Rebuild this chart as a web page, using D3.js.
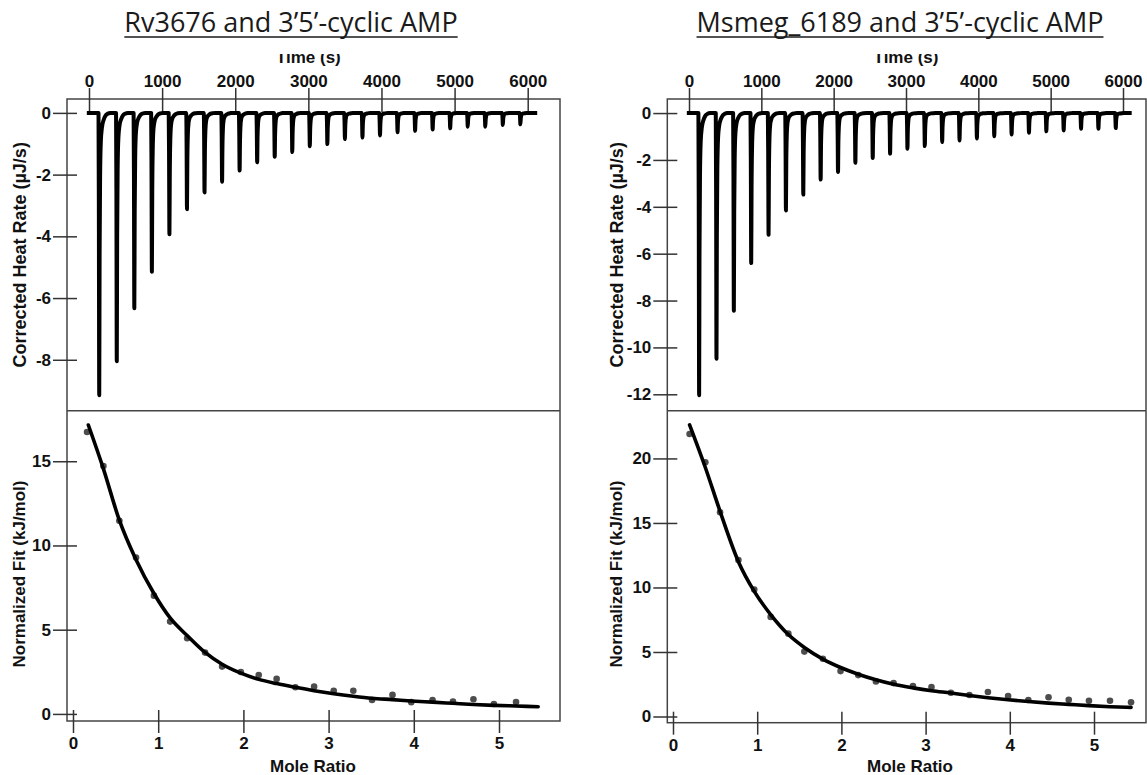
<!DOCTYPE html>
<html>
<head>
<meta charset="utf-8">
<script src="https://cdn.jsdelivr.net/npm/d3@7"></script>
<style>
  html, body { margin: 0; padding: 0; background: #fff; }
  svg { display: block; }
  .tick text { font-family: "Liberation Sans", Arial, sans-serif; font-weight: bold; font-size: 17px; fill: #111; }
  .tick line { stroke: #333; stroke-width: 1.5; }
  .axis-title { font-family: "Liberation Sans", Arial, sans-serif; font-weight: bold; font-size: 17px; fill: #111; }
  .axis-title.rate { font-size: 18px; }
  .chart-title { font-family: "Open Sans", sans-serif; font-size: 27px; fill: #1a1a1a; }
</style>
</head>
<body>
<svg id="chart" width="1147" height="775"></svg>
<script>
// ---- Injection schedule (s): 25 injections, one every 240 s ----
const injectionStarts = [130, 370, 610, 850, 1090, 1330, 1570, 1810, 2050, 2290, 2530, 2770, 3010,
  3250, 3490, 3730, 3970, 4210, 4450, 4690, 4930, 5170, 5410, 5650, 5890];

// Peak minimum of each injection (µJ/s)
const rvPeakMin = [-9.15, -8.05, -6.33, -5.15, -3.93, -3.12, -2.58, -2.23, -1.87, -1.6, -1.42, -1.27, -1.08,
  -1.01, -0.85, -0.8, -0.73, -0.63, -0.58, -0.54, -0.5, -0.45, -0.45, -0.39, -0.37];
const msPeakMin = [-12.04, -10.48, -8.44, -6.4, -5.19, -4.16, -3.48, -2.84, -2.52, -2.12, -1.92, -1.73, -1.52,
  -1.41, -1.24, -1.17, -1.09, -0.99, -0.92, -0.84, -0.78, -0.74, -0.67, -0.67, -0.64];

// Shape of one injection peak: [seconds after injection, fraction of the peak minimum]
const peakProfile = [[0, 0], [5, 0.35], [10, 1], [15, 0.5], [22, 0.22], [32, 0.1], [48, 0.05],
  [70, 0.025], [95, 0.01], [125, 0.003], [160, 0]];

// Recording window (s)
const rvTraceSpan = [-30, 6130];
const msTraceSpan = [-30, 6120];

// ---- Integrated heats (kJ/mol) vs molar ratio ----
const rvRatio = [0.165, 0.357, 0.544, 0.74, 0.95, 1.14, 1.34, 1.55, 1.75, 1.97, 2.18, 2.39, 2.61, 2.83,
  3.06, 3.29, 3.51, 3.75, 3.97, 4.22, 4.46, 4.70, 4.94, 5.20];
const rvHeat = [16.74, 14.71, 11.47, 9.29, 7.02, 5.48, 4.49, 3.64, 2.81, 2.49, 2.31, 2.08, 1.58, 1.62,
  1.38, 1.38, 0.83, 1.13, 0.7, 0.83, 0.73, 0.87, 0.59, 0.71];
const rvFitRatio = [0.18, 0.357, 0.544, 0.74, 0.95, 1.14, 1.34, 1.55, 1.75, 1.97, 2.18, 2.39, 2.61, 2.83,
  3.06, 3.29, 3.51, 3.75, 3.97, 4.22, 4.46, 4.70, 4.94, 5.20, 5.46];
const rvFit = [17.15, 14.55, 11.5, 9.15, 7.15, 5.7, 4.65, 3.65, 2.95, 2.42, 2.05, 1.8, 1.58, 1.38,
  1.2, 1.05, 0.93, 0.85, 0.77, 0.70, 0.63, 0.56, 0.51, 0.47, 0.43];

const msRatio = [0.197, 0.384, 0.559, 0.777, 0.965, 1.16, 1.37, 1.56, 1.78, 1.99, 2.20, 2.41, 2.62, 2.85,
  3.07, 3.30, 3.52, 3.74, 3.98, 4.22, 4.46, 4.70, 4.94, 5.19, 5.44];
const msHeat = [21.9, 19.7, 15.83, 12.12, 9.84, 7.72, 6.42, 5.03, 4.48, 3.52, 3.21, 2.72, 2.59, 2.36,
  2.28, 1.84, 1.67, 1.90, 1.59, 1.28, 1.49, 1.30, 1.22, 1.22, 1.10];
const msFitRatio = msRatio;
const msFit = [22.6, 19.3, 15.9, 12.0, 9.7, 7.9, 6.35, 5.35, 4.45, 3.8, 3.28, 2.85, 2.5, 2.22,
  2.0, 1.82, 1.63, 1.46, 1.3, 1.16, 1.04, 0.94, 0.84, 0.76, 0.71];

// ---- Tick labels ----
const timeTicks = [0, 1000, 2000, 3000, 4000, 5000, 6000];
const ratioTicks = [0, 1, 2, 3, 4, 5];
const rvRateTicks = [0, -2, -4, -6, -8];
const msRateTicks = [0, -2, -4, -6, -8, -10, -12];
const rvFitTicks = [0, 5, 10, 15];
const msFitTicks = [0, 5, 10, 15, 20];

const titles = ["Rv3676 and 3\u20195\u2019-cyclic AMP", "Msmeg_6189 and 3\u20195\u2019-cyclic AMP"];

// ---- Panel layout ----
const panels = [
  {
    title: titles[0], titleX: 291,
    x0: 67, x1: 560, top: 99, mid: 410.7, bottom: 721,
    timeRange: [89, 527.7], ratioRange: [73, 499],
    rateDomain: [0.45, -9.65], fitDomain: [18.0, -0.42],
    yTitleX: 20, peaks: rvPeakMin, span: rvTraceSpan, rateTicks: rvRateTicks, fitTicks: rvFitTicks,
    ratio: rvRatio, heat: rvHeat, fitRatio: rvFitRatio, fit: rvFit, moleX: 313
  },
  {
    title: titles[1], titleX: 900,
    x0: 667.3, x1: 1146, top: 99, mid: 410.7, bottom: 722.7,
    timeRange: [689, 1123], ratioRange: [673, 1094],
    rateDomain: [0.6, -12.7], fitDomain: [23.7, -0.48],
    yTitleX: 617, peaks: msPeakMin, span: msTraceSpan, rateTicks: msRateTicks, fitTicks: msFitTicks,
    ratio: msRatio, heat: msHeat, fitRatio: msFitRatio, fit: msFit, moleX: 910
  }
];

const svg = d3.select("#chart");

function buildTrace(starts, minima, span) {
  const pts = [[span[0], 0]];
  starts.forEach((t0, i) => {
    peakProfile.forEach(([dt, f]) => pts.push([t0 + dt, f * minima[i]]));
  });
  pts.push([span[1], 0]);
  return pts;
}

panels.forEach(p => {
  const g = svg.append("g");

  const x = d3.scaleLinear().domain([0, 6000]).range(p.timeRange);
  const yRate = d3.scaleLinear().domain(p.rateDomain).range([p.top, p.mid]);
  const xr = d3.scaleLinear().domain([0, 5]).range(p.ratioRange);
  const yFit = d3.scaleLinear().domain(p.fitDomain).range([p.mid, p.bottom]);

  // "Time (s)" label, top edge hidden under the title band
  g.append("text").attr("class", "axis-title")
    .attr("x", (p.timeRange[0] + p.timeRange[1]) / 2).attr("y", 63)
    .attr("text-anchor", "middle").text("Time (s)");
  g.append("rect").attr("x", p.x0 - 60).attr("y", 0)
    .attr("width", p.x1 - p.x0 + 80).attr("height", 54).attr("fill", "#fff");

  // Title with underline
  const t = g.append("text").attr("class", "chart-title")
    .attr("x", p.titleX).attr("y", 32).attr("text-anchor", "middle").text(p.title);
  const tw = t.node().getComputedTextLength();
  g.append("line").attr("x1", p.titleX - tw / 2).attr("x2", p.titleX + tw / 2)
    .attr("y1", 37).attr("y2", 37).attr("stroke", "#1a1a1a").attr("stroke-width", 1.5);

  // Frames
  g.append("rect").attr("x", p.x0).attr("y", p.top)
    .attr("width", p.x1 - p.x0).attr("height", p.bottom - p.top)
    .attr("fill", "none").attr("stroke", "#444").attr("stroke-width", 1.5);
  g.append("line").attr("x1", p.x0).attr("x2", p.x1).attr("y1", p.mid).attr("y2", p.mid)
    .attr("stroke", "#444").attr("stroke-width", 1.5);

  // Axes
  const fmt = d => String(d);
  g.append("g").attr("transform", `translate(0,${p.top + 13})`)
    .call(d3.axisTop(x).tickValues(timeTicks).tickFormat(fmt).tickSize(24).tickPadding(1))
    .call(a => a.select(".domain").remove());
  g.append("g").attr("transform", `translate(${p.x0 + 10},0)`)
    .call(d3.axisLeft(yRate).tickValues(p.rateTicks).tickFormat(fmt).tickSize(24).tickPadding(2))
    .call(a => a.select(".domain").remove());
  g.append("g").attr("transform", `translate(${p.x0 + 10},0)`)
    .call(d3.axisLeft(yFit).tickValues(p.fitTicks).tickFormat(fmt).tickSize(24).tickPadding(2))
    .call(a => a.select(".domain").remove());
  g.append("g").attr("transform", `translate(0,${p.bottom - 11})`)
    .call(d3.axisBottom(xr).tickValues(ratioTicks).tickFormat(fmt).tickSize(23).tickPadding(4))
    .call(a => a.select(".domain").remove());

  // Axis titles
  g.append("text").attr("class", "axis-title rate")
    .attr("transform", `translate(${p.yTitleX},${(p.top + p.mid) / 2}) rotate(-90)`)
    .attr("dy", "0.35em").attr("text-anchor", "middle").text("Corrected Heat Rate (\u00b5J/s)");
  g.append("text").attr("class", "axis-title")
    .attr("transform", `translate(${p.yTitleX - 1},574) rotate(-90)`)
    .attr("dy", "0.35em").attr("text-anchor", "middle").text("Normalized Fit (kJ/mol)");
  g.append("text").attr("class", "axis-title")
    .attr("x", p.moleX).attr("y", 772).attr("text-anchor", "middle").text("Mole Ratio");

  // Thermogram
  const trace = buildTrace(injectionStarts, p.peaks, p.span);
  g.append("path").datum(trace)
    .attr("fill", "none").attr("stroke", "#000").attr("stroke-width", 4)
    .attr("stroke-linejoin", "round").attr("stroke-linecap", "butt")
    .attr("d", d3.line().x(d => x(d[0])).y(d => yRate(d[1])).curve(d3.curveMonotoneX));

  // Integrated heats
  g.append("g").selectAll("circle").data(p.ratio.map((r, i) => [r, p.heat[i]]))
    .join("circle")
    .attr("cx", d => xr(d[0])).attr("cy", d => yFit(d[1])).attr("r", 3.3)
    .attr("fill", "#4d4d4d");

  // Fitted curve
  g.append("path").datum(p.fitRatio.map((r, i) => [r, p.fit[i]]))
    .attr("fill", "none").attr("stroke", "#000").attr("stroke-width", 3.6)
    .attr("stroke-linecap", "round")
    .attr("d", d3.line().x(d => xr(d[0])).y(d => yFit(d[1])).curve(d3.curveMonotoneX));
});
</script>
</body>
</html>
